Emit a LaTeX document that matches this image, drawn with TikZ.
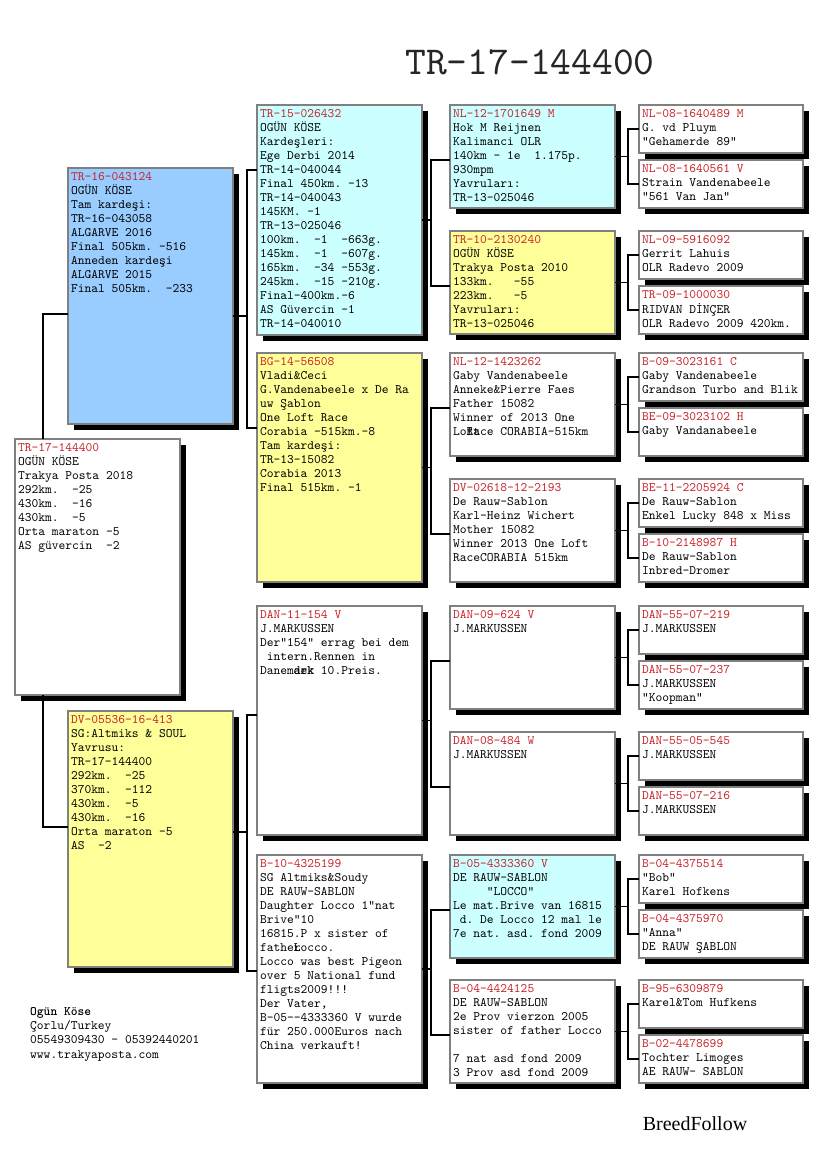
\documentclass[tikz,border=0pt]{standalone}
\usepackage{fontspec}
\setmonofont{lmmono10-regular.otf}[BoldFont=lmmonolt10-bold.otf]
\newfontfamily\brandfont{Liberation Serif}
\usetikzlibrary{calc,shadows}
\definecolor{ringred}{RGB}{200,35,40}
\definecolor{bluebox}{RGB}{153,204,255}
\definecolor{cyanbox}{RGB}{204,255,255}
\definecolor{yellowbox}{RGB}{255,255,153}
\definecolor{edgegray}{RGB}{128,128,128}
% box text: width, height, ring number, other lines
\newcommand{\pedtext}[4]{\parbox[c][\dimexpr#2pt-6pt\relax][t]{\dimexpr#1pt-6pt\relax}{\raggedright\strut\textcolor{ringred}{#3}\\#4}}
\tikzset{
    pbox/.style={
        draw=edgegray,
        line width=1.5pt,
        inner sep=3pt,
        outer sep=0pt,
        anchor=north west,
        font=\fontsize{12.9}{14}\selectfont\ttfamily,
        general shadow={fill=black, shadow xshift=6pt, shadow yshift=-6pt}
    },
    link/.style={
        line width=1.2pt,
        black
    }
}
\begin{document}
\begin{tikzpicture}[x=1pt, y=-1pt]
\useasboundingbox (0,0) rectangle (825,1172);

% title
\node[font=\fontsize{39.6}{44}\selectfont\ttfamily, text=black!85] (title) at (530,62) {TR-17-144400};

% pigeon
\node[pbox, fill=white] (p) at (15,439) {\pedtext{165}{256}{TR-17-144400}{OGÜN KÖSE\\Trakya Posta 2018\\292km.~~-25\\430km.~~-16\\430km.~~-5\\Orta maraton -5\\AS güvercin~~-2}};

% parents
\node[pbox, fill=bluebox] (s) at (68,168) {\pedtext{165}{256}{TR-16-043124}{OGÜN KÖSE\\Tam kardeşi:\\TR-16-043058\\ALGARVE 2016\\Final 505km. -516\\Anneden kardeşi\\ALGARVE 2015\\Final 505km.~~-233}};
\node[pbox, fill=yellowbox] (d) at (68,711) {\pedtext{165}{256}{DV-05536-16-413}{SG:Altmiks \& SOUL\\Yavrusu:\\TR-17-144400\\292km.~~-25\\370km.~~-112\\430km.~~-5\\430km.~~-16\\Orta maraton -5\\AS~~-2}};

% grandparents
\node[pbox, fill=cyanbox] (ss) at (257,105) {\pedtext{165}{230}{TR-15-026432}{OGÜN KÖSE\\Kardeşleri:\\Ege Derbi 2014\\TR-14-040044\\Final 450km. -13\\TR-14-040043\\145KM. -1\\TR-13-025046\\100km.~~-1~~-663g.\\145km.~~-1~~-607g.\\165km.~~-34 -553g.\\245km.~~-15 -210g.\\Final-400km.-6\\AS Güvercin -1\\TR-14-040010}};
\node[pbox, fill=yellowbox] (sd) at (257,353) {\pedtext{165}{229}{BG-14-56508}{Vladi\&Ceci\\G.Vandenabeele x De Ra\\uw Şablon\\One Loft Race\\Corabia -515km.-8\\Tam kardeşi:\\TR-13-15082\\Corabia 2013\\Final 515km. -1}};
\node[pbox, fill=white] (ds) at (257,606) {\pedtext{165}{229}{DAN-11-154 V}{J.MARKUSSEN\\Der"154" errag bei dem\\~intern.Rennen in\\Danem\rlap{ark}dek 10.Preis.}};
\node[pbox, fill=white] (dd) at (257,855) {\pedtext{165}{228}{B-10-4325199}{SG Altmiks\&Soudy\\DE RAUW-SABLON\\Daughter Locco 1"nat\\Brive"10\\16815.P x sister of\\fathe\rlap{r}Locco.\\Locco was best Pigeon\\over 5 National fund\\fligts2009!!!\\Der Vater,\\B-05--4333360 V wurde\\für 250.000Euros nach\\China verkauft!}};

% great-grandparents
\node[pbox, fill=cyanbox] (sss) at (450,105) {\pedtext{165}{103}{NL-12-1701649 M}{Hok M Reijnen\\Kalimanci OLR\\140km - 1e~~1.175p.\\930mpm\\Yavruları:\\TR-13-025046}};
\node[pbox, fill=yellowbox] (ssd) at (450,231) {\pedtext{165}{103}{TR-10-2130240}{OGÜN KÖSE\\Trakya Posta 2010\\133km.~~~-55\\223km.~~~-5\\Yavruları:\\TR-13-025046}};
\node[pbox, fill=white] (sds) at (450,353) {\pedtext{165}{103}{NL-12-1423262}{Gaby Vandenabeele\\Anneke\&Pierre Faes\\Father 15082\\Winner of 2013 One\\Lo\rlap{ft}Race CORABIA-515km}};
\node[pbox, fill=white] (sdd) at (450,479) {\pedtext{165}{103}{DV-02618-12-2193}{De Rauw-Sablon\\Karl-Heinz Wichert\\Mother 15082\\Winner 2013 One Loft\\RaceCORABIA 515km}};
\node[pbox, fill=white] (dss) at (450,606) {\pedtext{165}{103}{DAN-09-624 V}{J.MARKUSSEN}};
\node[pbox, fill=white] (dsd) at (450,732) {\pedtext{165}{103}{DAN-08-484 W}{J.MARKUSSEN}};
\node[pbox, fill=cyanbox] (dds) at (450,855) {\pedtext{165}{103}{B-05-4333360 V}{DE RAUW-SABLON\\~~~~~"LOCCO"\\Le mat.Brive van 16815\\~d. De Locco 12 mal le\\7e nat. asd. fond 2009}};
\node[pbox, fill=white] (ddd) at (450,980) {\pedtext{165}{103}{B-04-4424125}{DE RAUW-SABLON\\2e Prov vierzon 2005\\sister of father Locco\\\strut\\7 nat asd fond 2009\\3 Prov asd fond 2009}};

% great-great-grandparents
\node[pbox, fill=white] (ssss) at (639,105) {\pedtext{164}{48}{NL-08-1640489 M}{G. vd Pluym\\"Gehamerde 89"}};
\node[pbox, fill=white] (sssd) at (639,160) {\pedtext{164}{48}{NL-08-1640561 V}{Strain Vandenabeele\\"561 Van Jan"}};
\node[pbox, fill=white] (ssds) at (639,231) {\pedtext{164}{48}{NL-09-5916092}{Gerrit Lahuis\\OLR Radevo 2009}};
\node[pbox, fill=white] (ssdd) at (639,286) {\pedtext{164}{48}{TR-09-1000030}{RIDVAN DİNÇER\\OLR Radevo 2009 420km.}};
\node[pbox, fill=white] (sdss) at (639,353) {\pedtext{164}{48}{B-09-3023161 C}{Gaby Vandenabeele\\\mbox{Grandson Turbo and Blik}}};
\node[pbox, fill=white] (sdsd) at (639,408) {\pedtext{164}{48}{BE-09-3023102 H}{Gaby Vandanabeele}};
\node[pbox, fill=white] (sdds) at (639,479) {\pedtext{164}{48}{BE-11-2205924 C}{De Rauw-Sablon\\\mbox{Enkel Lucky 848 x Miss}}};
\node[pbox, fill=white] (sddd) at (639,534) {\pedtext{164}{48}{B-10-2148987 H}{De Rauw-Sablon\\Inbred-Dromer}};
\node[pbox, fill=white] (dsss) at (639,606) {\pedtext{164}{48}{DAN-55-07-219}{J.MARKUSSEN}};
\node[pbox, fill=white] (dssd) at (639,661) {\pedtext{164}{48}{DAN-55-07-237}{J.MARKUSSEN\\"Koopman"}};
\node[pbox, fill=white] (dsds) at (639,732) {\pedtext{164}{48}{DAN-55-05-545}{J.MARKUSSEN}};
\node[pbox, fill=white] (dsdd) at (639,787) {\pedtext{164}{48}{DAN-55-07-216}{J.MARKUSSEN}};
\node[pbox, fill=white] (ddss) at (639,855) {\pedtext{164}{48}{B-04-4375514}{"Bob"\\Karel Hofkens}};
\node[pbox, fill=white] (ddsd) at (639,910) {\pedtext{164}{48}{B-04-4375970}{"Anna"\\DE RAUW ŞABLON}};
\node[pbox, fill=white] (ddds) at (639,980) {\pedtext{164}{48}{B-95-6309879}{Karel\&Tom Hufkens}};
\node[pbox, fill=white] (dddd) at (639,1035) {\pedtext{164}{48}{B-02-4478699}{Tochter Limoges\\AE RAUW- SABLON}};

% bracket columns
\coordinate (c1) at (43,0);
\coordinate (c2) at (247,0);
\coordinate (c3) at (431,0);
\coordinate (c4) at (628,0);

% where the lines meet the boxes
\coordinate (s-in) at ($(s.north west)+(0,146)$);
\coordinate (d-in) at ($(d.north west)+(0,116)$);
\coordinate (s-out) at ($(s.north east)+(0,148)$);
\coordinate (d-out) at ($(d.north east)+(0,121)$);
\coordinate (ss-in) at ($(ss.north west)+(0,65)$);
\coordinate (sd-in) at ($(sd.north west)+(0,75)$);
\coordinate (ds-in) at ($(ds.north west)+(0,109)$);
\coordinate (dd-in) at ($(dd.north west)+(0,116)$);
\coordinate (sss-in) at ($(sss.north west)+(0,55)$);
\coordinate (ssd-in) at ($(ssd.north west)+(0,55)$);
\coordinate (sds-in) at ($(sds.north west)+(0,55)$);
\coordinate (sdd-in) at ($(sdd.north west)+(0,55)$);
\coordinate (dss-in) at ($(dss.north west)+(0,55)$);
\coordinate (dsd-in) at ($(dsd.north west)+(0,55)$);
\coordinate (dds-in) at ($(dds.north west)+(0,55)$);
\coordinate (ddd-in) at ($(ddd.north west)+(0,55)$);

% pigeon to parents
\draw[link] (p.north -| c1) -- (c1 |- s-in) -- (s-in);
\draw[link] (p.south -| c1) -- (c1 |- d-in) -- (d-in);

% parents to grandparents
\draw[link] (s-out) -- (c2 |- s-out) (ss-in) -- (c2 |- ss-in) -- (c2 |- sd-in) -- (sd-in);
\draw[link] (d-out) -- (c2 |- d-out) (ds-in) -- (c2 |- ds-in) -- (c2 |- dd-in) -- (dd-in);

% grandparents to great-grandparents
\draw[link] (ss.east) -- (ss.east -| c3) (sss-in) -- (c3 |- sss-in) -- (c3 |- ssd-in) -- (ssd-in);
\draw[link] (sd.east) -- (sd.east -| c3) (sds-in) -- (c3 |- sds-in) -- (c3 |- sdd-in) -- (sdd-in);
\draw[link] (ds.east) -- (ds.east -| c3) (dss-in) -- (c3 |- dss-in) -- (c3 |- dsd-in) -- (dsd-in);
\draw[link] (dd.east) -- (dd.east -| c3) (dds-in) -- (c3 |- dds-in) -- (c3 |- ddd-in) -- (ddd-in);

% great-grandparents to the last column
\draw[link] (sss.east) -- (sss.east -| c4) (ssss.west) -- (ssss.west -| c4) -- (sssd.west -| c4) -- (sssd.west);
\draw[link] (ssd.east) -- (ssd.east -| c4) (ssds.west) -- (ssds.west -| c4) -- (ssdd.west -| c4) -- (ssdd.west);
\draw[link] (sds.east) -- (sds.east -| c4) (sdss.west) -- (sdss.west -| c4) -- (sdsd.west -| c4) -- (sdsd.west);
\draw[link] (sdd.east) -- (sdd.east -| c4) (sdds.west) -- (sdds.west -| c4) -- (sddd.west -| c4) -- (sddd.west);
\draw[link] (dss.east) -- (dss.east -| c4) (dsss.west) -- (dsss.west -| c4) -- (dssd.west -| c4) -- (dssd.west);
\draw[link] (dsd.east) -- (dsd.east -| c4) (dsds.west) -- (dsds.west -| c4) -- (dsdd.west -| c4) -- (dsdd.west);
\draw[link] (dds.east) -- (dds.east -| c4) (ddss.west) -- (ddss.west -| c4) -- (ddsd.west -| c4) -- (ddsd.west);
\draw[link] (ddd.east) -- (ddd.east -| c4) (ddds.west) -- (ddds.west -| c4) -- (dddd.west -| c4) -- (dddd.west);

% owner and footer
\node[anchor=north west, align=left, inner sep=0pt, font=\fontsize{12.9}{14.3}\selectfont\ttfamily] (owner) at (30,1007) {\textbf{Ogün Köse}\\Çorlu/Turkey\\05549309430 - 05392440201\\www.trakyaposta.com};
\node[font=\fontsize{20}{24}\selectfont\brandfont] (brand) at (695,1124) {BreedFollow};
\end{tikzpicture}
\end{document}
